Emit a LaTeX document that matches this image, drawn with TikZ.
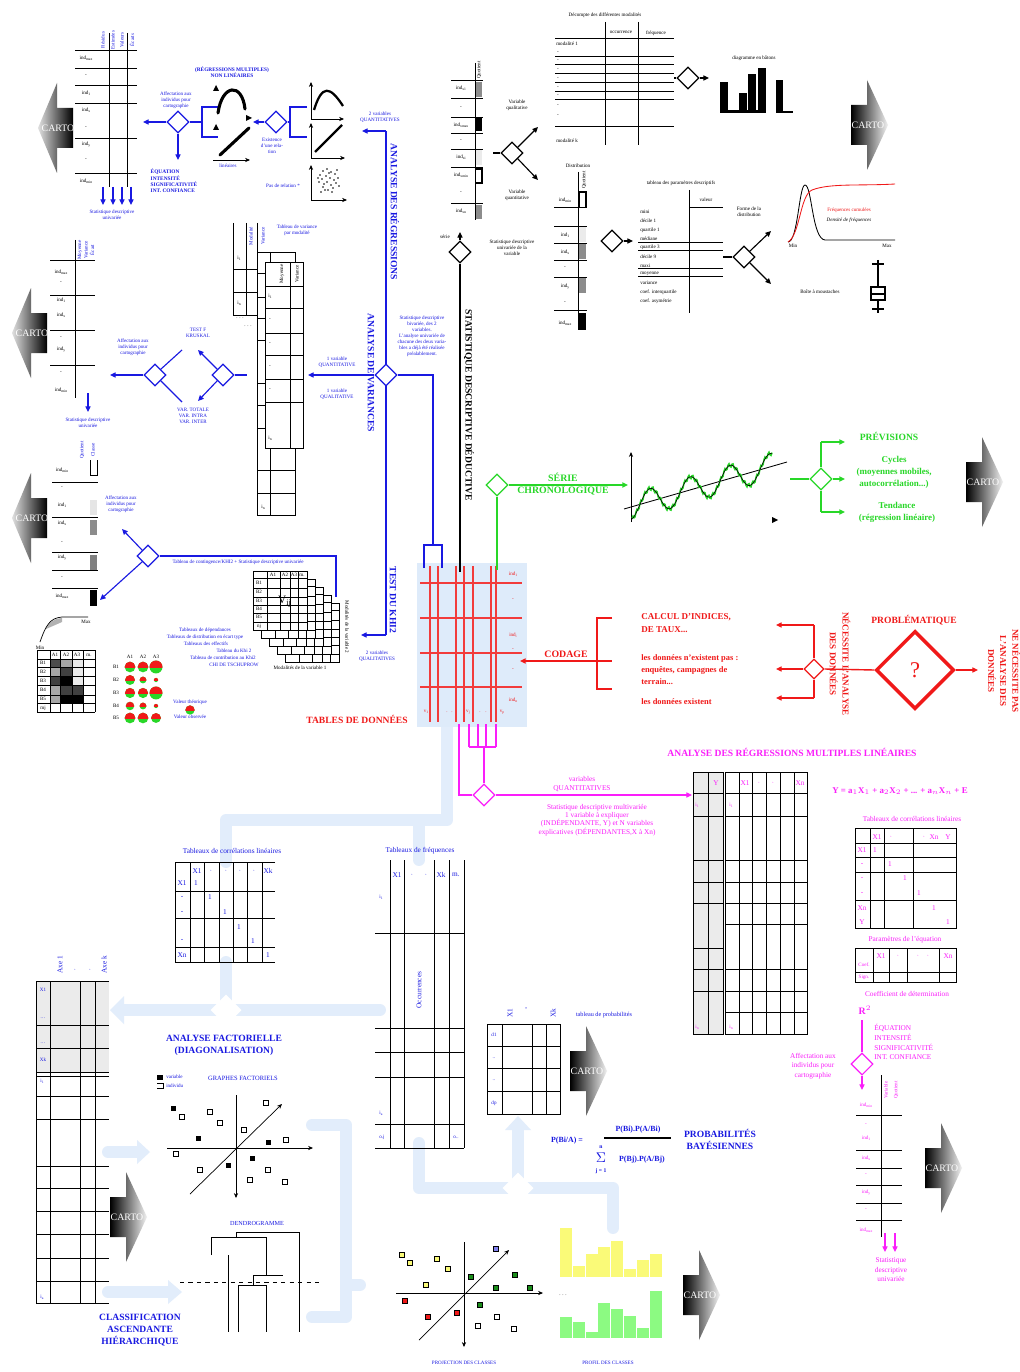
\documentclass[tikz,border=0pt]{standalone}
\usepackage{fontspec}
\setmainfont{Liberation Serif}
\usepackage{amsmath}
\usetikzlibrary{shapes.geometric,arrows.meta}

\definecolor{bleu}{RGB}{25,25,225}
\definecolor{vert}{RGB}{40,215,40}
\definecolor{rouge}{RGB}{240,25,25}
\definecolor{rose}{RGB}{250,30,250}
\definecolor{ciel}{RGB}{226,237,251}
\definecolor{fond}{RGB}{222,235,250}
\definecolor{jaune}{RGB}{250,250,120}
\definecolor{vclair}{RGB}{140,250,130}

\tikzset{
  tbl/.style={line width=0.7pt},
  losange/.style={diamond,draw,fill=white,line width=0.8pt,minimum width=0.55cm,minimum height=0.55cm,inner sep=0pt},
  fleche/.style={-{Triangle[length=4pt,width=3.6pt]},line width=0.8pt},
  axe/.style={-{Stealth[length=3.5pt,width=3pt]},line width=0.5pt},
  mini/.style={font=\fontsize{3.6}{4.3}\selectfont,align=center,inner sep=0pt},
  petit/.style={font=\fontsize{5.2}{6.8}\selectfont,align=center,inner sep=0pt},
  titre/.style={font=\fontsize{6.8}{8.6}\selectfont\bfseries,align=center,inner sep=0pt},
  bande/.style={ciel,line width=8.5pt,line cap=round,line join=round},
  cartotxt/.style={font=\fontsize{7}{7}\selectfont,text=white,inner sep=0pt},
}
% indice en petit texte
\newcommand\bas[1]{\raisebox{-0.4ex}{\fontsize{2.6}{3}\selectfont#1}}
% fleche CARTO vers la gauche (pointe x, centre y)
\newcommand\cartoG[2]{%
  \shade[left color=black!12,right color=black] (#1,#2) -- ++(19,-45) -- ++(0,25) -- ++(16,0)
    -- ++(0,40) -- ++(-16,0) -- ++(0,25) -- cycle;
  \node[cartotxt] at (#1+20,#2) {CARTO};}
% fleche CARTO vers la droite (debut x, centre y)
\newcommand\cartoD[2]{%
  \shade[left color=black,right color=black!5] (#1,#2-20) -- ++(16,0) -- ++(0,-25) -- ++(21,45)
    -- ++(-21,45) -- ++(0,-25) -- ++(-16,0) -- cycle;
  \node[cartotxt] at (#1+17,#2) {CARTO};}

\begin{document}
\begin{tikzpicture}[x=0.025cm,y=-0.025cm]
\path[use as bounding box,fill=white] (0,0) rectangle (1019,1372);

% ---- bandes bleu ciel (liaisons du bas)
\draw[bande] (447,727) -- (447,820) -- (226,820) -- (226,862);
\draw[bande] (419,820) -- (419,860);
\draw[bande] (226,962) -- (226,1010);
\draw[bande] (124,1010) -- (380,1010);
\fill[ciel] (110,1010) -- (124,996) -- (124,1024) -- cycle;
\draw[bande] (108,1152) -- (138,1152);
\fill[ciel] (150,1152) -- (137,1140) -- (137,1164) -- cycle;
\draw[bande] (108,1292) -- (168,1292);
\fill[ciel] (182,1292) -- (168,1280) -- (168,1304) -- cycle;
\draw[bande] (312,1125) -- (346,1125) -- (346,1317) -- (312,1317) (346,1285) -- (360,1285);
\draw[bande] (419,1143) -- (419,1188) -- (613,1188) -- (613,1228);
\draw[bande] (518,1188) -- (518,1130);
\fill[ciel] (518,1116) -- (505,1130) -- (531,1130) -- cycle;
\node[diamond,fill=white,minimum width=0.78cm,minimum height=0.78cm,inner sep=0pt] (blancA) at (226,1010) {};
\node[diamond,fill=white,minimum width=0.78cm,minimum height=0.78cm,inner sep=0pt] (blancB) at (518,1188) {};

% ---- regressions (haut gauche)
\cartoG{38}{128}
\foreach \y in {50,68,85,103,138,173} \draw[tbl] (75,\y) -- (137,\y);
\draw[tbl] (109,33) -- (109,187) (127,33) -- (127,187);
\foreach \x/\t in {103/Résidus,113/Estimées,122/Valeurs,132/Écarts} \node[mini,rotate=90,bleu] at (\x,40) {\t};
\foreach \y/\t in {58/{ind\bas{max}},76/-,93/{ind\bas{1}},110/{ind\bas{x}},128/-,145/{ind\bas{y}},160/-,181/{ind\bas{min}}} \node[mini] at (86,\y) {\t};
\foreach \x in {103,113,122,131} \draw[fleche,bleu] (\x,187) -- (\x,205);
\node[mini,bleu] (uniA) at (112,215) {Statistique descriptive\\univariée};

\node[losange,draw=bleu] (dA) at (178,122) {};
\coordinate (cA1) at (143,122);
\coordinate (cA2) at (178,160);
\draw[fleche,bleu] (dA.west) -- (cA1);
\draw[fleche,bleu] (dA.south) -- (cA2);
\node[mini,bleu] at (176,100) {Affectation aux\\individus pour\\cartographie};
\node[mini,bleu,font=\fontsize{3.8}{4.6}\selectfont\bfseries,align=left] at (174,181) {ÉQUATION\\INTENSITÉ\\SIGNIFICATIVITÉ\\INT. CONFIANCE};
\draw[bleu,line width=1pt] (dA.east) -- (202,122) (218,107) -- (202,107) -- (202,137) -- (218,137);
\node[mini,bleu,font=\fontsize{3.8}{4.6}\selectfont\bfseries] at (232,72) {(RÉGRESSIONS MULTIPLES)\\NON LINÉAIRES};
\draw[line width=2.2pt,line cap=round] (218,113) .. controls (222,84) and (242,82) .. (245,109);
\draw[line width=2.2pt,line cap=round] (220,155) -- (249,128);
\fill (216,85) -- (213,91) -- (219,91) -- cycle;
\fill (216,124) -- (213,130) -- (219,130) -- cycle;
\fill (252,118) -- (246,115) -- (246,121) -- cycle;
\draw[axe] (213,160) -- (250,160);
\node[mini,bleu] at (228,166) {linéaires};

\node[losange,draw=bleu] (dB) at (276,122) {};
\coordinate (cB) at (253,122);
\draw[fleche,bleu] (dB.west) -- (cB);
\draw[bleu,line width=1pt] (dB.east) -- (290,122) (307,107) -- (290,107) -- (290,137) -- (307,137);
\node[mini,bleu] at (272,146) {Existence\\d'une rela-\\tion};
\draw[axe] (311,119) -- (311,82);
\draw[axe] (311,119) -- (344,119);
\draw[line width=1.6pt] (314,110) .. controls (322,84) and (330,86) .. (343,106);
\draw[axe] (311,158) -- (311,123);
\draw[axe] (311,158) -- (345,158);
\draw[line width=1.6pt] (315,152) -- (342,125);
\draw[axe] (311,200) -- (311,165);
\draw[axe] (311,200) -- (347,200);
\foreach \px/\py in {320/175,323/171,327/169,331/172,335/174,338/178,336/183,333/188,328/190,323/187,319/182,322/179,326/176,330/178,334/180,327/182,324/184,331/185,337/170,318/178,329/173,325/190,332/192,339/186,321/192}
  \fill (\px,\py) circle[radius=0.55pt];
\node[mini,bleu] at (283,186) {Pas de relation *};
\node[mini,bleu] at (380,117) {2 variables\\QUANTITATIVES};

% ---- axe bleu
\coordinate (hautB) at (386,131);
\coordinate (flecheB) at (362,131);
\draw[bleu,line width=1pt] (hautB) -- (386,635);
\draw[fleche,bleu] (hautB) -- (flecheB);
\node[titre,bleu,rotate=-90] at (395,212) {ANALYSE DES RÉGRESSIONS};

% ---- analyse de variances
\node[losange,draw=bleu] (dC) at (386,375) {};
\coordinate (cC) at (308,375);
\draw[fleche,bleu] (dC.west) -- (cC);
\draw[bleu,line width=1pt] (dC.east) -- (433,375) -- (433,545);
\node[titre,bleu,rotate=-90] at (371,373) {ANALYSE DE VARIANCES};
\node[mini,bleu] at (337,362) {1 variable\\QUANTITATIVE};
\node[mini,bleu] at (337,394) {1 variable\\QUALITATIVE};
\node[mini,bleu] at (422,336) {Statistique descriptive\\bivariée, des 2\\variables.\\L'analyse univariée de\\chacune des deux varia-\\bles a déjà été réalisée\\préalablement.};
% tables empilees
\draw[tbl] (233,223) -- (233,315) -- (257,315) (246,223) -- (246,315) (257,223) -- (257,252);
\draw[tbl] (233,269) -- (257,269) (233,292) -- (257,292);
\node[mini,rotate=90,bleu] at (251,236) {Modalité};
\node[mini,rotate=90,bleu] at (263,236) {Variance};
\node[mini] at (239,258) {i\bas{1}};
\node[mini] at (239,303) {i\bas{n}};
\node[mini] at (240,318) {. . .};
\node[mini] at (248,326) {. . .};
\node[mini,bleu] at (297,230) {Tableau de variance\\par modalité};
\filldraw[tbl,fill=white] (257,252) rectangle (295,515);
\draw[tbl] (270,252) -- (270,515);
\foreach \y in {273,297,318,340,383,405,428,470,493} \draw[tbl] (257,\y) -- (295,\y);
\filldraw[tbl,fill=white] (265,262) rectangle (303,448);
\draw[tbl] (290,262) -- (290,448);
\foreach \y in {286,308,333,355,379,402} \draw[tbl] (265,\y) -- (303,\y);
\node[mini,rotate=90] at (282,274) {Moyenne};
\node[mini,rotate=90] at (297,274) {Variance};
\foreach \y/\t in {296/{i\bas{1}},320/-,344/-,367/-,390/-,438/{i\bas{n}}} \node[mini] at (270,\y) {\t};
\node[mini] at (263,507) {i\bas{n}};

\node[losange,draw=bleu] (dD) at (223,375) {};
\coordinate (cD1) at (198,350);
\coordinate (cD2) at (198,401);
\draw[bleu,line width=0.8pt] (dD.east) -- (247,375);
\draw[fleche,bleu] (dD.north west) -- (cD1);
\draw[fleche,bleu] (dD.south west) -- (cD2);
\node[mini,bleu] at (198,333) {TEST F\\KRUSKAL};
\node[mini,bleu] at (193,416) {VAR. TOTALE\\VAR. INTRA\\VAR. INTER};
\node[losange,draw=bleu] (dE) at (155,375) {};
\coordinate (cE) at (110,375);
\draw[bleu,line width=0.8pt] (dE.north east) -- (182,350) (dE.south east) -- (182,402);
\draw[fleche,bleu] (dE.west) -- (cE);
\node[mini,bleu] at (133,347) {Affectation aux\\individus pour\\cartographie};
\draw[tbl] (75,240) -- (75,398);
\foreach \y in {260,295,330,365} \draw[tbl] (50,\y) -- (95,\y);
\foreach \x/\t in {80/Moyenne,86/Variance,92/Écart} \node[mini,rotate=90,bleu] at (\x,250) {\t};
\foreach \y/\t in {272/{ind\bas{max}},283/-,300/{ind\bas{1}},315/{ind\bas{x}},338/-,350/{ind\bas{y}},373/-,390/{ind\bas{min}}} \node[mini] at (61,\y) {\t};
\draw[fleche,bleu] (88,393) -- (88,412);
\node[mini,bleu] at (88,423) {Statistique descriptive\\univariée};
\cartoG{12}{333}

% ---- test du khi2
\cartoG{12}{518}
\foreach \y in {482,517,552,570,588} \draw[tbl] (52,\y) -- (98,\y);
\draw[tbl] (90,460) -- (90,475) -- (97,475) -- (97,460);
\fill[black!10] (90,500) rectangle (97,515);
\fill[black!45] (90,520) rectangle (97,535);
\fill[black!50] (90,555) rectangle (97,570);
\fill[black] (90,590) rectangle (97,606);
\node[mini,rotate=90,bleu] at (82,450) {Quotient};
\node[mini,rotate=90,bleu] at (93,450) {Classe};
\foreach \y/\t in {470/{ind\bas{min}},488/-,505/{ind\bas{1}},523/{ind\bas{x}},543/-,558/{ind\bas{y}},578/-,596/{ind\bas{max}}} \node[mini] at (62,\y) {\t};
\node[mini,bleu] at (121,504) {Affectation aux\\individus pour\\cartographie};
\node[losange,draw=bleu] (dF) at (148,556) {};
\coordinate (cF1) at (122,529);
\coordinate (cF2) at (100,600);
\draw[fleche,bleu] (dF.north west) -- (cF1);
\draw[fleche,bleu] (dF.south west) -- (cF2);
\draw[bleu,line width=1pt] (dF.east) -- (336,556) -- (336,597);
\node[mini,bleu] at (238,562) {Tableau de contingence/KHI2 + Statistique descriptive univariée};
\foreach \k in {4,3,2,1,0} {
  \begin{scope}[shift={(8*\k,8*\k)}]
    \filldraw[tbl,fill=white] (253,571) rectangle (307,630);
    \foreach \gx in {267,280,290,298} \draw[tbl] (\gx,571) -- (\gx,630);
    \foreach \gy in {578,588,597,605,613,622} \draw[tbl] (253,\gy) -- (307,\gy);
  \end{scope}}
\foreach \x/\t in {273/A1,285/A2,294/A3,302/m.} \node[mini] at (\x,575) {\t};
\foreach \y/\t in {583/B1,592/B2,601/B3,609/B4,617/B5,626/nj} \node[mini] at (259,\y) {\t};
\node[font=\fontsize{8}{8}\selectfont] at (285,602) {V$_{\mathrm{ij}}$};
\node[mini] at (300,668) {Modalités de la variable 1};
\node[mini,rotate=-90] at (347,627) {Modalités de la variable 2};
\node[mini,bleu] at (205,630) {Tableaux de dépendances};
\node[mini,bleu] at (205,637) {Tableaux de distribution en écart type};
\node[mini,bleu] at (206,644) {Tableaux des effectifs};
\node[mini,bleu] at (234,651) {Tableau du Khi 2};
\node[mini,bleu] at (223,658) {Tableau de contribution au Khi2};
\node[mini,bleu] at (234,665) {CHI DE TSCHUPROW};
% courbe cumulee
\fill[black!30] (46,629) .. controls (49,622) and (53,619) .. (62,618) -- (62,622) -- cycle;
\draw[line width=0.5pt] (40,642) .. controls (46,625) and (50,618) .. (62,617) -- (88,617);
\node[mini] at (40,648) {Min};
\node[mini] at (86,622) {Max};
% matrice de gris
\foreach \xa/\xb/\ya/\yb/\g in {50/60/659/667/70,60/72/659/667/35,72/83/659/667/8,50/60/667/676/35,60/72/667/676/75,72/83/667/676/8,50/60/676/685/75,60/72/676/685/100,72/83/676/685/8,50/60/685/695/35,60/72/685/695/75,72/83/685/695/75,50/60/695/703/35,60/72/695/703/100,72/83/695/703/100}
  \fill[black!\g] (\xa,\ya) rectangle (\xb,\yb);
\foreach \x in {37,50,60,72,83,95} \draw[tbl,line width=0.5pt] (\x,650) -- (\x,712);
\foreach \y in {650,659,667,676,685,695,703,712} \draw[tbl,line width=0.5pt] (37,\y) -- (95,\y);
\foreach \x/\t in {55/A1,66/A2,77/A3,89/m.} \node[mini] at (\x,655) {\t};
\foreach \y/\t in {663/B1,672/B2,681/B3,690/B4,699/B5,708/mj} \node[mini] at (43,\y) {\t};
% bulles
\foreach \x/\t in {130/A1,143/A2,156/A3} \node[mini] at (\x,657) {\t};
\foreach \y/\t in {667/B1,680/B2,693/B3,706/B4,718/B5} \node[mini] at (116,\y) {\t};
\foreach \bx/\by/\r in {130/667/3.8pt,143/667/3.8pt,156/667/4.6pt,130/680/3.5pt,143/680/2.4pt,156/680/1.5pt,130/693/3.6pt,143/693/3.6pt,156/693/4.6pt,130/706/3pt,143/706/2.4pt,156/706/1.5pt,130/718/3.8pt,143/718/3.8pt,156/718/3.5pt,190/710/3.3pt} {
  \fill[vert] (\bx,\by) circle[radius=\r];
  \begin{scope}
    \clip (\bx-8,\by-8) rectangle (\bx+8,\by);
    \fill[rouge] (\bx,\by) circle[radius=\r];
  \end{scope}}
\node[mini,bleu] at (190,702) {Valeur théorique};
\node[mini,bleu] at (190,717) {Valeur observée};
\node[titre,bleu,rotate=-90] at (393,600) {TEST DU KHI2};
\coordinate (cKhi) at (361,635);
\draw[fleche,bleu] (386,635) -- (cKhi);
\node[mini,bleu] at (377,656) {2 variables\\QUALITATIVES};

% ---- tables de donnees
\fill[fond] (417,563) rectangle (527,727);
\foreach \x in {430,438,456,464,473,491,496} \draw[rouge!85,line width=0.9pt] (\x,566) -- (\x,722);
\foreach \y in {583,618,653,687} \draw[rouge!85,line width=0.9pt] (420,\y) -- (522,\y);
\foreach \y/\t in {574/{ind\bas{1}},600/-,635/{ind\bas{i}},650/-,670/-,700/{ind\bas{n}}} \node[mini,rouge] at (513,\y) {\t};
\foreach \x/\t in {426/{v\bas{1}},447/{.},452/{.},468/{v\bas{j}},480/{.},486/{.},502/{v\bas{p}}} \node[mini,rouge] at (\x,712) {\t};
\draw[bleu,line width=1pt] (424,568) -- (424,545) -- (442,545) -- (442,568);
\node[titre,rouge] at (357,719) {TABLES DE DONNÉES};

% ---- statistique descriptive (noir)
\node[losange] (dG) at (460,252) {};
\coordinate (cG) at (460,232);
\draw[fleche] (dG.north) -- (cG);
\draw[line width=0.8pt] (dG.south) -- (460,572);
\node[mini] at (445,237) {série};
\node[mini] at (512,248) {Statistique descriptive\\univariée de la\\variable};
\node[titre,rotate=-90] at (469,405) {STATISTIQUE DESCRIPTIVE DÉDUCTIVE};
\draw[tbl] (475,63) -- (475,220);
\foreach \y in {80,98,117,133,149,167,203} \draw[tbl] (451,\y) -- (483,\y);
\fill[black!45] (476,82) rectangle (482,97);
\fill (476,118) rectangle (482,131);
\fill[black!8] (476,150) rectangle (482,165);
\draw[line width=0.8pt] (476,169) -- (482,169) -- (482,183) -- (476,183);
\fill[black!45] (476,205) rectangle (482,219);
\node[mini,rotate=90] at (479,70) {Quotient};
\foreach \y/\t in {88/{ind\bas{x1}},108/-,125/{ind\bas{xmax}},141/-,157/{ind\bas{xi}},175/{ind\bas{xmin}},193/-,211/{ind\bas{xn}}} \node[mini] at (461,\y) {\t};
\node[losange] (dH) at (512,153) {};
\coordinate (cH1) at (538,127);
\coordinate (cH2) at (538,180);
\draw[line width=0.8pt] (493,153) -- (dH.west);
\draw[fleche] (dH.north east) -- (cH1);
\draw[fleche] (dH.south east) -- (cH2);
\node[mini] at (517,105) {Variable\\qualitative};
\node[mini] at (517,195) {Variable\\quantitative};
% decompte
\node[mini] at (605,15) {Décompte des différentes modalités};
\draw[tbl] (605,22) -- (605,145) (638,22) -- (638,145);
\foreach \y in {38,56,64,73,82,91,99,126} \draw[tbl] (555,\y) -- (674,\y);
\node[mini] at (621,32) {occurrence};
\node[mini] at (656,33) {fréquence};
\node[mini,anchor=west] at (556,44) {modalité 1};
\foreach \y in {53,61,70,79,88,96,106,116} \node[mini] at (558,\y) {-};
\node[mini,anchor=west] at (556,141) {modalité k};
\node[losange] (dI) at (688,78) {};
\coordinate (cI) at (709,78);
\draw[line width=0.8pt] (674,78) -- (dI.west);
\draw[fleche] (dI.east) -- (cI);
\node[mini] at (754,58) {diagramme en bâtons};
\fill (720,82) rectangle (728,113);
\fill (739,93) rectangle (747,113);
\fill (748,74) rectangle (756,113);
\fill (758,68) rectangle (766,113);
\fill (776,80) rectangle (783,113);
\fill (720,110) rectangle (766,113);
\fill (783,111) rectangle (793,113);
\cartoD{851}{125}
% distribution
\node[mini] at (578,166) {Distribution};
\draw[tbl] (578,172) -- (578,330);
\foreach \y in {207,226,243,260,277,310} \draw[tbl] (554,\y) -- (587,\y);
\draw[line width=0.8pt] (579,207) -- (579,192) -- (586,192) -- (586,207);
\fill[black!8] (579,227) rectangle (586,242);
\fill[black!45] (579,244) rectangle (586,259);
\fill[black!45] (579,278) rectangle (586,293);
\fill (579,313) rectangle (586,330);
\node[mini,rotate=90] at (584,180) {Quotient};
\foreach \y/\t in {200/{ind\bas{min}},235/{ind\bas{1}},252/{ind\bas{x}},268/-,287/{ind\bas{y}},303/-,323/{ind\bas{max}}} \node[mini] at (565,\y) {\t};
\node[losange] (dJ) at (612,241) {};
\coordinate (cJ) at (633,241);
\draw[fleche] (dJ.east) -- (cJ);
% parametres
\node[mini] at (681,183) {tableau des paramètres descriptifs};
\draw[tbl] (689,190) -- (689,313);
\draw[tbl] (689,207) -- (723,207);
\foreach \y in {242,250,268,276} \draw[tbl] (638,\y) -- (723,\y);
\node[mini] at (706,200) {valeur};
\foreach \y/\t in {212/mini,221/décile 1,230/quartile 1,239/médiane,247/quartile 3,257/décile 9,266/maxi,274/moyenne,283/variance,292/coef. interquartile,301/coef. asymétrie}
  \node[mini,anchor=west] at (640,\y) {\t};
\node[losange] (dK) at (744,257) {};
\coordinate (cK1) at (771,231);
\coordinate (cK2) at (771,284);
\draw[line width=0.8pt] (723,257) -- (dK.west);
\draw[fleche] (dK.north east) -- (cK1);
\draw[fleche] (dK.south east) -- (cK2);
\node[mini] at (749,212) {Forme de la\\distribution};
\draw[line width=0.6pt] (788,242) .. controls (798,242) and (799,185) .. (805,185) .. controls (812,185) and (812,239) .. (825,240) -- (895,240);
\draw[rouge,line width=0.6pt] (788,242) .. controls (800,235) and (800,195) .. (812,190) .. controls (830,183) and (860,186) .. (895,184);
\node[mini,rouge] at (849,210) {Fréquences cumulées};
\node[mini,font=\fontsize{3.6}{4.3}\selectfont\itshape] at (849,220) {Densité de fréquences};
\node[mini] at (793,246) {Min};
\node[mini] at (887,246) {Max};
\node[mini] at (820,292) {Boîte à moustaches};
\draw[line width=0.9pt] (878,260) -- (878,287) (878,300) -- (878,313);
\draw[line width=0.9pt] (872,264) -- (884,264) (872,309) -- (884,309);
\draw[line width=1.1pt] (871,287) rectangle (885,300);
\draw[line width=0.9pt] (871,294) -- (885,294);

% ---- serie chronologique (vert)
\node[losange,draw=vert] (dL) at (497,485) {};
\coordinate (cL) at (628,485);
\draw[vert,line width=1.2pt] (dL.south) -- (497,570);
\draw[fleche,vert,line width=1.2pt] (dL.east) -- (cL);
\node[titre,vert,font=\fontsize{7}{8.6}\selectfont\bfseries] at (563,484) {SÉRIE\\CHRONOLOGIQUE};
\draw[axe,line width=0.7pt] (631,522) -- (631,452);
\draw[line width=0.6pt] (624,509) -- (787,462);
\draw[vert,line width=1.1pt] plot[domain=632:772,samples=141] (\x,{509-0.29*(\x-624)-13*sin(9*(\x-640))+2.2*sin(90*(\x-630)+30)});
\draw[line width=0.45pt] plot[domain=632:772,samples=100,smooth] (\x,{509-0.29*(\x-624)-13*sin(9*(\x-640))});
\fill (772,517) -- (778,520) -- (772,523) -- cycle;
\node[losange,draw=vert] (dM) at (821,479) {};
\coordinate (prevA) at (845,442);
\coordinate (prevB) at (845,479);
\coordinate (prevC) at (845,512);
\draw[vert,line width=1.2pt] (790,479) -- (dM.west);
\draw[vert,line width=1.2pt] (821,442) -- (dM.north) (dM.south) -- (821,512);
\draw[fleche,vert,line width=1.2pt] (821,442) -- (prevA);
\draw[fleche,vert,line width=1.2pt] (dM.east) -- (prevB);
\draw[fleche,vert,line width=1.2pt] (821,512) -- (prevC);
\node[titre,vert] at (889,436) {PRÉVISIONS};
\node[titre,vert,font=\fontsize{6.4}{8.6}\selectfont\bfseries] at (894,472) {Cycles\\(moyennes mobiles,\\autocorrélation...)};
\node[titre,vert,font=\fontsize{6.4}{8.6}\selectfont\bfseries] at (897,512) {Tendance\\(régression linéaire)};
\cartoD{966}{482}

% ---- problematique (rouge)
\draw[rouge,line width=1.2pt] (612,618) -- (597,618) -- (597,689) -- (612,689) (597,661) -- (612,661);
\coordinate (cCod) at (520,661);
\draw[fleche,rouge,line width=1.2pt] (597,661) -- (cCod);
\node[titre,rouge,font=\fontsize{7}{8.6}\selectfont\bfseries] at (566,654) {CODAGE};
\node[rouge,font=\fontsize{6.4}{9}\selectfont\bfseries,align=left,anchor=west,inner sep=0pt] at (641,623) {CALCUL D'INDICES,\\DE TAUX...};
\node[rouge,font=\fontsize{6}{8.6}\selectfont\bfseries,align=left,anchor=west,inner sep=0pt] at (641,670) {les données n'existent pas :\\enquêtes, campagnes de\\terrain...};
\node[rouge,font=\fontsize{6}{8.6}\selectfont\bfseries,anchor=west,inner sep=0pt] at (641,702) {les données existent};
\node[losange,draw=rouge,minimum width=0.5cm,minimum height=0.5cm] (dN) at (814,669) {};
\coordinate (cN1) at (776,625);
\coordinate (cN2) at (776,669);
\coordinate (cN3) at (776,698);
\draw[rouge,line width=1pt] (814,625) -- (dN.north) (dN.south) -- (814,698);
\draw[fleche,rouge] (814,625) -- (cN1);
\draw[fleche,rouge] (dN.west) -- (cN2);
\draw[fleche,rouge] (814,698) -- (cN3);
\node[diamond,draw=rouge,line width=2.5pt,minimum width=1.95cm,minimum height=1.95cm,inner sep=0pt,text=rouge,font=\fontsize{16}{16}\selectfont] (dO) at (915,670) {?};
\coordinate (cO) at (978,670);
\draw[rouge,line width=1pt] (dN.east) -- (dO.west);
\draw[fleche,rouge] (dO.east) -- (cO);
\node[titre,rouge] at (914,620) {PROBLÉMATIQUE};
\node[titre,rouge,font=\fontsize{6.4}{9}\selectfont\bfseries,rotate=-90] at (840,664) {NÉCESSITE L'ANALYSE\\DES DONNÉES};
\node[titre,rouge,font=\fontsize{6.4}{8.6}\selectfont\bfseries,rotate=-90] at (1004,671) {NE NÉCESSITE PAS\\L'ANALYSE DES\\DONNÉES};

% ---- regressions multiples (rose)
\foreach \x in {469,478,486,496} \draw[rose,line width=1pt] (\x,724) -- (\x,747);
\draw[rose,line width=1pt] (469,747) -- (496,747);
\node[losange,draw=rose] (dP) at (484,795) {};
\coordinate (cP) at (692,795);
\draw[rose,line width=1pt] (484,747) -- (dP.north);
\draw[rose,line width=1pt] (459,724) -- (459,795) -- (dP.west);
\draw[fleche,rose] (dP.east) -- (cP);
\node[petit,rose] at (582,784) {variables\\QUANTITATIVES};
\node[petit,rose,font=\fontsize{5.2}{5.9}\selectfont] at (597,820) {Statistique descriptive multivariée\\1 variable à expliquer\\(INDÉPENDANTE, Y) et N variables\\explicatives (DÉPENDANTES,X à Xn)};
\node[titre,rose] at (792,752) {ANALYSE DES RÉGRESSIONS MULTIPLES LINÉAIRES};
\fill[black!8] (693,772) rectangle (723,1034);
\draw[tbl] (693,772) rectangle (723,1034);
\draw[tbl] (708,772) -- (708,1034);
\foreach \y in {793,816,860,882,903,948,969,991} \draw[tbl] (693,\y) -- (723,\y);
\draw[tbl] (725,772) rectangle (807,1034);
\foreach \x in {739,752,766,780,794} \draw[tbl] (\x,772) -- (\x,1034);
\foreach \y in {793,816,860,882,903,924,969,991,1012} \draw[tbl] (725,\y) -- (807,\y);
\foreach \x/\t in {716/Y,745/X1,759/{$\cdot$},773/{$\cdot$},800/Xn} \node[petit,rose] at (\x,783) {\t};
\node[mini,rose] at (697,805) {i\bas{1}};
\node[mini,rose] at (731,805) {i\bas{1}};
\node[mini,rose] at (697,1027) {i\bas{n}};
\node[mini,rose] at (731,1027) {i\bas{n}};
\node[rose,font=\fontsize{6.3}{7}\selectfont\bfseries,inner sep=0pt] at (900,791) {Y = a$_1$X$_1$ + a$_2$X$_2$ + ... + a$_n$X$_n$ + E};
\node[petit,rose] at (912,819) {Tableaux de corrélations linéaires};
\draw[tbl] (855,828) rectangle (956,928);
\foreach \x in {870,884,913} \draw[tbl] (\x,828) -- (\x,928);
\foreach \y in {843,857,872,900} \draw[tbl] (855,\y) -- (956,\y);
\foreach \x/\t in {877/X1,891/{$\cdot$},924/{$\cdot$},934/Xn,948/Y} \node[petit,rose] at (\x,837) {\t};
\foreach \y/\t in {850/X1,864/-,878/-,893/-,908/Xn,922/Y} \node[petit,rose] at (862,\y) {\t};
\foreach \x/\y in {875/850,890/864,905/878,919/893,934/908,948/922} \node[petit,rose] at (\x,\y) {1};
\node[petit,rose] at (905,940) {Paramètres de l'équation};
\draw[tbl] (855,948) rectangle (956,982);
\foreach \x in {873,889,907,939} \draw[tbl] (\x,948) -- (\x,982);
\draw[tbl] (855,972) -- (956,972);
\foreach \x/\t in {881/X1,898/{$\cdot$},918/{$\cdot$},928/{$\cdot$},948/Xn} \node[petit,rose] at (\x,956) {\t};
\node[mini,rose] at (864,965) {Coef.};
\node[mini,rose] at (864,977) {Sign.};
\node[petit,rose] at (907,994) {Coefficient de détermination};
\node[rose,font=\fontsize{7}{7}\selectfont\bfseries,inner sep=0pt] at (865,1010) {R$^2$};
\node[losange,draw=rose] (dQ) at (862,1064) {};
\coordinate (cQ) at (862,1090);
\draw[rose,line width=1.2pt] (862,1020) -- (dQ.north);
\draw[fleche,rose] (dQ.south) -- (cQ);
\node[petit,rose,align=left,anchor=west,font=\fontsize{5.2}{7}\selectfont] at (874,1042) {ÉQUATION\\INTENSITÉ\\SIGNIFICATIVITÉ\\INT. CONFIANCE};
\node[petit,rose] at (813,1066) {Affectation aux\\individus pour\\cartographie};
\draw[tbl] (881,1075) -- (881,1237);
\foreach \y in {1115,1150,1168,1185,1203,1220} \draw[tbl] (856,\y) -- (902,\y);
\node[mini,rose,rotate=90] at (886,1090) {Variable};
\node[mini,rose,rotate=90] at (896,1090) {Quotient};
\foreach \y/\t in {1105/{ind\bas{min}},1125/-,1138/{ind\bas{1}},1158/{ind\bas{x}},1175/-,1193/{ind\bas{y}},1210/-,1230/{ind\bas{max}}} \node[mini,rose] at (866,\y) {\t};
\draw[fleche,rose] (885,1233) -- (885,1252);
\draw[fleche,rose] (895,1233) -- (895,1252);
\node[petit,rose] at (891,1270) {Statistique\\descriptive\\univariée};
\cartoD{925}{1168}

% ---- analyse factorielle (bas gauche)
\node[petit,bleu] at (232,851) {Tableaux de corrélations linéaires};
\draw[tbl] (275,862) -- (175,862) -- (175,962) -- (275,962);
\foreach \x in {190,204,219,233,247,262} \draw[tbl] (\x,862) -- (\x,962);
\foreach \y in {891,918,947} \draw[tbl] (175,\y) -- (275,\y);
\foreach \x/\t in {197/X1,211/{$\cdot$},226/{$\cdot$},240/{$\cdot$},254/{$\cdot$},268/Xk} \node[petit,bleu] at (\x,871) {\t};
\node[petit,bleu] at (182,883) {X1};
\foreach \x/\y in {196/883,210/897,225/912,239/927,253/941,268/955} \node[petit,bleu] at (\x,\y) {1};
\foreach \y/\t in {897/-,912/-,940/-,955/Xn} \node[petit,bleu] at (182,\y) {\t};
\node[petit,bleu] at (420,851) {Tableaux de fréquences};
\foreach \x in {390,404,434,449,464} \draw[tbl] (\x,860) -- (\x,1148);
\foreach \y in {933,1028,1052,1077,1124,1148} \draw[tbl] (375,\y) -- (464,\y);
\foreach \x/\t in {397/X1,412/{$\cdot$},426/{$\cdot$},441/Xk,456/m.} \node[petit,bleu] at (\x,875) {\t};
\node[mini,bleu] at (381,897) {i\bas{1}};
\node[mini,bleu] at (381,1113) {i\bas{a}};
\node[mini,bleu] at (382,1137) {o.j};
\node[mini,bleu] at (456,1137) {o..};
\node[petit,bleu,rotate=90] at (419,990) {Occurrences};
\fill[black!8] (36,981) rectangle (109,1072);
\draw[tbl] (109,981) -- (36,981) -- (36,1303) -- (109,1303);
\foreach \x in {50,80,95} \draw[tbl] (\x,981) -- (\x,1303);
\foreach \y in {1025,1048,1072,1076,1096,1119,1166,1188,1211,1234,1258,1281} \draw[tbl] (36,\y) -- (109,\y);
\node[petit,bleu,rotate=90] at (60,965) {Axe 1};
\node[petit,bleu] at (75,970) {$\cdot$};
\node[petit,bleu] at (90,970) {$\cdot$};
\node[petit,bleu,rotate=90] at (104,965) {Axe k};
\foreach \y/\t in {990/X1,1018/{\dots},1043/{\dots},1060/Xk} \node[mini,bleu] at (43,\y) {\t};
\node[mini,bleu] at (42,1081) {i\bas{1}};
\node[mini,bleu] at (42,1297) {i\bas{a}};
\node[titre,bleu] at (224,1045) {ANALYSE FACTORIELLE\\(DIAGONALISATION)};
\fill (157,1075) rectangle (163,1080);
\draw[line width=0.6pt] (157,1083) -- (163,1083) -- (163,1088) -- (157,1088);
\node[mini,bleu,anchor=west] at (166,1077) {variable};
\node[mini,bleu,anchor=west] at (166,1086) {individu};
\node[bleu,font=\fontsize{4.6}{5}\selectfont,inner sep=0pt] at (243,1078) {GRAPHES FACTORIELS};
\draw[axe] (167,1148) -- (313,1148);
\draw[axe] (236,1095) -- (236,1198);
\draw[axe] (190,1194) -- (282,1104);
\foreach \px/\py in {173/1108,198/1138,268/1142,252/1158,228/1165} \fill (\px-2.5,\py-2.5) rectangle (\px+2.5,\py+2.5);
\foreach \px/\py in {182/1117,210/1112,220/1123,244/1130,176/1154,200/1170,286/1140,250/1180,268/1170,285/1182,266/1103}
  \draw[line width=0.6pt] (\px-2.2,\py-2.2) rectangle (\px+2.2,\py+2.2);
\node[bleu,font=\fontsize{4.4}{5}\selectfont,inner sep=0pt] at (257,1223) {DENDROGRAMME};
\draw[line width=0.7pt] (236,1237) -- (236,1232) -- (299,1232) -- (299,1332);
\draw[line width=0.7pt] (211,1255) -- (211,1237) -- (266,1237) -- (266,1275);
\draw[line width=0.7pt] (228,1255) -- (228,1332);
\draw[line width=0.7pt] (253,1285) -- (253,1275) -- (283,1275);
\draw[line width=0.7pt] (238,1332) -- (238,1285) -- (266,1285) -- (266,1332);
\draw[dashed,line width=0.7pt] (180,1282) -- (320,1282);
\node[titre,bleu] at (140,1330) {CLASSIFICATION\\ASCENDANTE\\HIÉRARCHIQUE};
\cartoD{110}{1217}

% ---- probabilites et classes (bas milieu)
\draw[tbl] (487,1024) rectangle (560,1114);
\foreach \x in {502,532,546} \draw[tbl] (\x,1024) -- (\x,1114);
\foreach \y in {1046,1068,1091} \draw[tbl] (487,\y) -- (560,\y);
\node[petit,bleu,rotate=90] at (510,1013) {X1};
\node[petit,bleu] at (526,1010) {'};
\node[petit,bleu,rotate=90] at (553,1013) {Xk};
\foreach \y/\t in {1035/d1,1058/{..},1080/{..},1103/dp} \node[mini,bleu] at (494,\y) {\t};
\node[bleu,font=\fontsize{4.4}{5}\selectfont,inner sep=0pt] at (604,1015) {tableau de probabilités};
\cartoD{570}{1071}
\node[bleu,font=\fontsize{5.6}{6}\selectfont\bfseries,inner sep=0pt] at (567,1141) {P(Bi/A) =};
\node[bleu,font=\fontsize{5.6}{6}\selectfont\bfseries,inner sep=0pt] at (638,1130) {P(Bi).P(A/Bi)};
\draw[line width=1pt] (604,1138) -- (671,1138);
\node[bleu,font=\fontsize{4}{4}\selectfont\bfseries,inner sep=0pt] at (601,1147) {n};
\node[bleu,font=\fontsize{10}{10}\selectfont,inner sep=0pt] at (601,1158) {$\Sigma$};
\node[bleu,font=\fontsize{4}{4}\selectfont\bfseries,inner sep=0pt] at (601,1171) {j = 1};
\node[bleu,font=\fontsize{5.6}{6}\selectfont\bfseries,inner sep=0pt] at (642,1160) {P(Bj).P(A/Bj)};
\node[titre,bleu] at (720,1139) {PROBABILITÉS\\BAYÉSIENNES};
\draw[axe] (396,1293) -- (543,1293);
\draw[axe] (464,1242) -- (464,1347);
\draw[axe] (419,1340) -- (509,1250);
\foreach \px/\py/\c in {402/1255/jaune,410/1263/jaune,437/1259/jaune,448/1269/jaune,426/1285/jaune,496/1249/bleu!55,471/1277/vert!65!black,515/1275/vert!65!black,496/1288/vert!65!black,530/1288/vert!65!black,480/1305/vert!65!black,405/1301/rouge,428/1317/rouge,457/1313/rouge,497/1317/white,478/1326/white,514/1329/white}
  \filldraw[fill=\c,draw=black,line width=0.4pt] (\px-2.6,\py-2.6) rectangle (\px+2.6,\py+2.6);
\node[mini,bleu] at (464,1363) {PROJECTION DES CLASSES};
\foreach \xa/\ha/\hb in {560/1228/1317,573/1266/1322,586/1254/1332,598/1247/1303,611/1241/1309,624/1269/1316,637/1260/1328,650/1254/1291} {
  \fill[jaune] (\xa,\ha) rectangle (\xa+11.5,1277);
  \fill[vclair] (\xa,\hb) rectangle (\xa+11.5,1338);}
\node[mini] at (563,1295) {. . .};
\node[mini,bleu] at (608,1363) {PROFIL DES CLASSES};
\cartoD{683}{1295}
\end{tikzpicture}
\end{document}
